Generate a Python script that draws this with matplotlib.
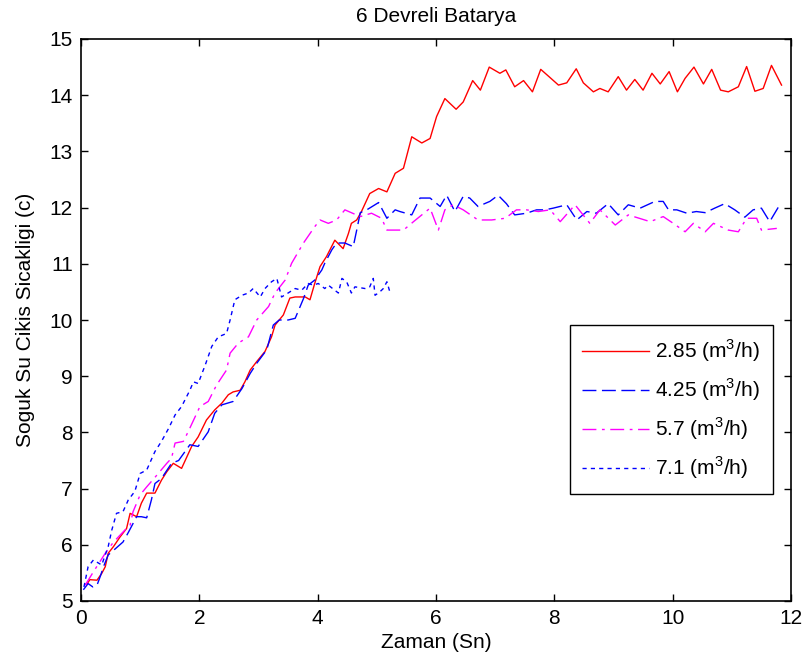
import matplotlib
matplotlib.use("Agg")
import matplotlib.pyplot as plt

# 2.85 m3/h
red_x = [0.10, 0.15, 0.27, 0.35, 0.41, 0.46, 0.55, 0.66, 0.77, 0.83, 0.94, 1.02, 1.11, 1.25, 1.36, 1.45,
         1.56, 1.70, 1.87, 1.98, 2.12, 2.26, 2.38, 2.49, 2.57, 2.69, 2.77, 2.86, 2.97, 3.11, 3.22, 3.28,
         3.42, 3.53, 3.62, 3.79, 3.87, 3.95, 4.04, 4.15, 4.29, 4.43, 4.52, 4.57, 4.66, 4.74, 4.88, 5.03,
         5.17, 5.31, 5.45, 5.59, 5.76, 5.90, 6.01, 6.15, 6.34, 6.46, 6.62, 6.75, 6.90, 7.08, 7.18, 7.33,
         7.48, 7.63, 7.77, 7.91, 8.07, 8.21, 8.37, 8.49, 8.66, 8.77, 8.91, 9.08, 9.22, 9.36, 9.50, 9.65,
         9.79, 9.94, 10.08, 10.21, 10.36, 10.52, 10.66, 10.81, 10.94, 11.11, 11.25, 11.39, 11.53, 11.67, 11.84]
red_y = [5.30, 5.38, 5.37, 5.49, 5.61, 5.85, 5.97, 6.14, 6.29, 6.56, 6.50, 6.74, 6.92, 6.92, 7.15, 7.30,
         7.45, 7.36, 7.75, 7.92, 8.22, 8.40, 8.52, 8.67, 8.72, 8.75, 8.90, 9.11, 9.26, 9.44, 9.70, 9.91,
         10.09, 10.39, 10.41, 10.41, 10.36, 10.65, 10.95, 11.13, 11.42, 11.27, 11.54, 11.72, 11.78, 11.93, 12.25, 12.34,
         12.28, 12.61, 12.70, 13.26, 13.15, 13.23, 13.62, 13.94, 13.75, 13.88, 14.26, 14.09, 14.50, 14.39, 14.45, 14.15,
         14.26, 14.06, 14.46, 14.33, 14.18, 14.22, 14.47, 14.22, 14.06, 14.12, 14.06, 14.33, 14.09, 14.28, 14.09, 14.39,
         14.20, 14.42, 14.06, 14.30, 14.50, 14.20, 14.46, 14.09, 14.06, 14.15, 14.51, 14.07, 14.12, 14.53, 14.18]

# 4.25 m3/h
blue_x = [0.04, 0.12, 0.20, 0.27, 0.33, 0.38, 0.46, 0.57, 0.71, 0.80, 0.94, 1.02, 1.11, 1.19, 1.25, 1.36,
          1.53, 1.65, 1.84, 1.98, 2.15, 2.26, 2.38, 2.57, 2.72, 2.86, 2.97, 3.14, 3.25, 3.35, 3.50, 3.62,
          3.76, 3.84, 3.95, 4.07, 4.12, 4.24, 4.32, 4.46, 4.57, 4.60, 4.66, 4.72, 4.83, 5.03, 5.17, 5.31,
          5.39, 5.59, 5.73, 5.90, 6.07, 6.18, 6.32, 6.46, 6.57, 6.71, 6.91, 7.05, 7.19, 7.33, 7.53, 7.70,
          7.84, 7.98, 8.21, 8.38, 8.55, 8.71, 8.91, 9.08, 9.25, 9.45, 9.70, 9.84, 9.93, 10.07, 10.24, 10.40,
          10.55, 10.71, 10.88, 11.05, 11.22, 11.36, 11.50, 11.64, 11.81]
blue_y = [5.20, 5.31, 5.25, 5.28, 5.45, 5.61, 5.82, 5.92, 6.05, 6.22, 6.50, 6.50, 6.48, 6.80, 7.09, 7.18,
          7.45, 7.50, 7.78, 7.75, 8.01, 8.34, 8.49, 8.55, 8.78, 9.05, 9.23, 9.47, 9.91, 10.00, 10.00, 10.03,
          10.38, 10.62, 10.71, 10.89, 11.01, 11.25, 11.37, 11.37, 11.32, 11.30, 11.60, 11.91, 11.96, 12.09, 11.81, 11.96,
          11.93, 11.87, 12.17, 12.17, 12.02, 12.22, 11.93, 12.20, 12.17, 12.02, 12.11, 12.22, 12.07, 11.87, 11.90, 11.96,
          11.96, 11.99, 12.05, 11.78, 11.93, 11.90, 12.07, 11.87, 12.05, 11.99, 12.11, 12.11, 11.96, 11.96, 11.90, 11.93,
          11.91, 11.99, 12.07, 11.96, 11.83, 11.96, 11.99, 11.75, 12.05]

# 5.7 m3/h
mag_x = [0.07, 0.21, 0.32, 0.41, 0.55, 0.74, 0.83, 0.88, 1.00, 1.11, 1.25, 1.45, 1.53, 1.59, 1.73, 1.81,
         2.01, 2.15, 2.29, 2.46, 2.52, 2.66, 2.83, 2.97, 3.17, 3.28, 3.45, 3.56, 3.76, 3.95, 4.04, 4.18,
         4.32, 4.46, 4.72, 4.91, 5.08, 5.17, 5.45, 5.62, 5.90, 6.04, 6.15, 6.29, 6.46, 6.71, 6.94, 7.17,
         7.36, 7.53, 7.73, 7.93, 8.10, 8.35, 8.60, 8.77, 9.03, 9.25, 9.62, 9.84, 10.01, 10.21, 10.35, 10.55,
         10.69, 10.94, 11.11, 11.25, 11.42, 11.50, 11.76]
mag_y = [5.28, 5.52, 5.70, 5.85, 6.05, 6.26, 6.35, 6.59, 6.89, 7.03, 7.20, 7.45, 7.54, 7.81, 7.84, 8.01,
         8.46, 8.55, 8.84, 9.11, 9.41, 9.59, 9.70, 10.00, 10.24, 10.48, 10.71, 11.01, 11.37, 11.66, 11.78, 11.72,
         11.78, 11.96, 11.84, 11.90, 11.81, 11.60, 11.60, 11.75, 11.99, 11.60, 11.96, 12.05, 11.96, 11.78, 11.78, 11.81,
         11.96, 11.96, 11.93, 11.96, 11.75, 12.05, 11.72, 11.96, 11.69, 11.87, 11.75, 11.84, 11.72, 11.57, 11.72, 11.57,
         11.72, 11.60, 11.57, 11.81, 11.81, 11.60, 11.63]

# 7.1 m3/h
dot_x = [0.05, 0.12, 0.21, 0.35, 0.46, 0.52, 0.60, 0.71, 0.80, 0.91, 1.00, 1.11, 1.25, 1.36, 1.48, 1.59,
         1.70, 1.84, 1.90, 1.98, 2.10, 2.21, 2.32, 2.46, 2.52, 2.60, 2.72, 2.83, 2.91, 3.03, 3.11, 3.22,
         3.31, 3.39, 3.50, 3.62, 3.73, 3.84, 3.93, 4.01, 4.12, 4.18, 4.35, 4.41, 4.49, 4.57, 4.63, 4.80,
         4.88, 4.94, 4.97, 5.05, 5.11, 5.17, 5.22]
dot_y = [5.25, 5.61, 5.73, 5.64, 5.97, 6.26, 6.56, 6.59, 6.80, 6.95, 7.27, 7.33, 7.66, 7.84, 8.07, 8.31,
         8.46, 8.75, 8.90, 8.87, 9.20, 9.53, 9.70, 9.76, 10.00, 10.36, 10.44, 10.48, 10.56, 10.41, 10.56, 10.68,
         10.74, 10.41, 10.48, 10.56, 10.53, 10.65, 10.62, 10.65, 10.56, 10.62, 10.48, 10.74, 10.68, 10.48, 10.59, 10.56,
         10.59, 10.74, 10.44, 10.50, 10.56, 10.68, 10.50]

labels = ["2.85 (m$^3$/h)", "4.25 (m$^3$/h)", "5.7 (m$^3$/h)", "7.1 (m$^3$/h)"]

plt.rcParams['font.family'] = ['Liberation Sans', 'DejaVu Sans']
plt.rcParams['mathtext.fontset'] = 'custom'
plt.rcParams['mathtext.rm'] = 'Liberation Sans'

FS = 15

fig = plt.figure(figsize=(8.05, 6.68), dpi=100)
ax = fig.add_axes([81 / 805, 1 - 601 / 668, 710 / 805, 562 / 668])

ax.plot(red_x, red_y, color='red', lw=1.0, label=labels[0])
ax.plot(blue_x, blue_y, color='blue', lw=1.0, linestyle=(0, (10, 4)), label=labels[1])
ax.plot(mag_x, mag_y, color='magenta', lw=1.0, linestyle=(0, (10, 4, 2, 4)), label=labels[2])
ax.plot(dot_x, dot_y, color='blue', lw=1.0, linestyle=(0, (3, 3)), label=labels[3])

ax.set_xlim(0, 12)
ax.set_ylim(5, 15)
ax.set_xticks(range(0, 13, 2))
ax.set_yticks(range(5, 16))
ax.tick_params(direction='in', top=True, right=True, length=5, width=1, labelsize=FS)
ax.tick_params(axis='y', pad=6)
ax.tick_params(axis='x', pad=6)
for s in ax.spines.values():
    s.set_linewidth(1.2)

ax.set_title("6 Devreli Batarya", fontsize=FS, pad=12)
ax.set_xlabel("Zaman (Sn)", fontsize=FS, labelpad=3)
ax.set_ylabel("Soguk Su Cikis Sicakligi (c)", fontsize=FS, labelpad=10)

leg = ax.legend(loc='upper left', bbox_to_anchor=(0.6887, 0.491), borderaxespad=0, fontsize=FS,
                handlelength=3.2, fancybox=False, framealpha=1, edgecolor='black', borderpad=0.6,
                labelspacing=0.6, handletextpad=0.3)
leg.get_frame().set_linewidth(1.0)

fig.savefig("out.png", dpi=100)
